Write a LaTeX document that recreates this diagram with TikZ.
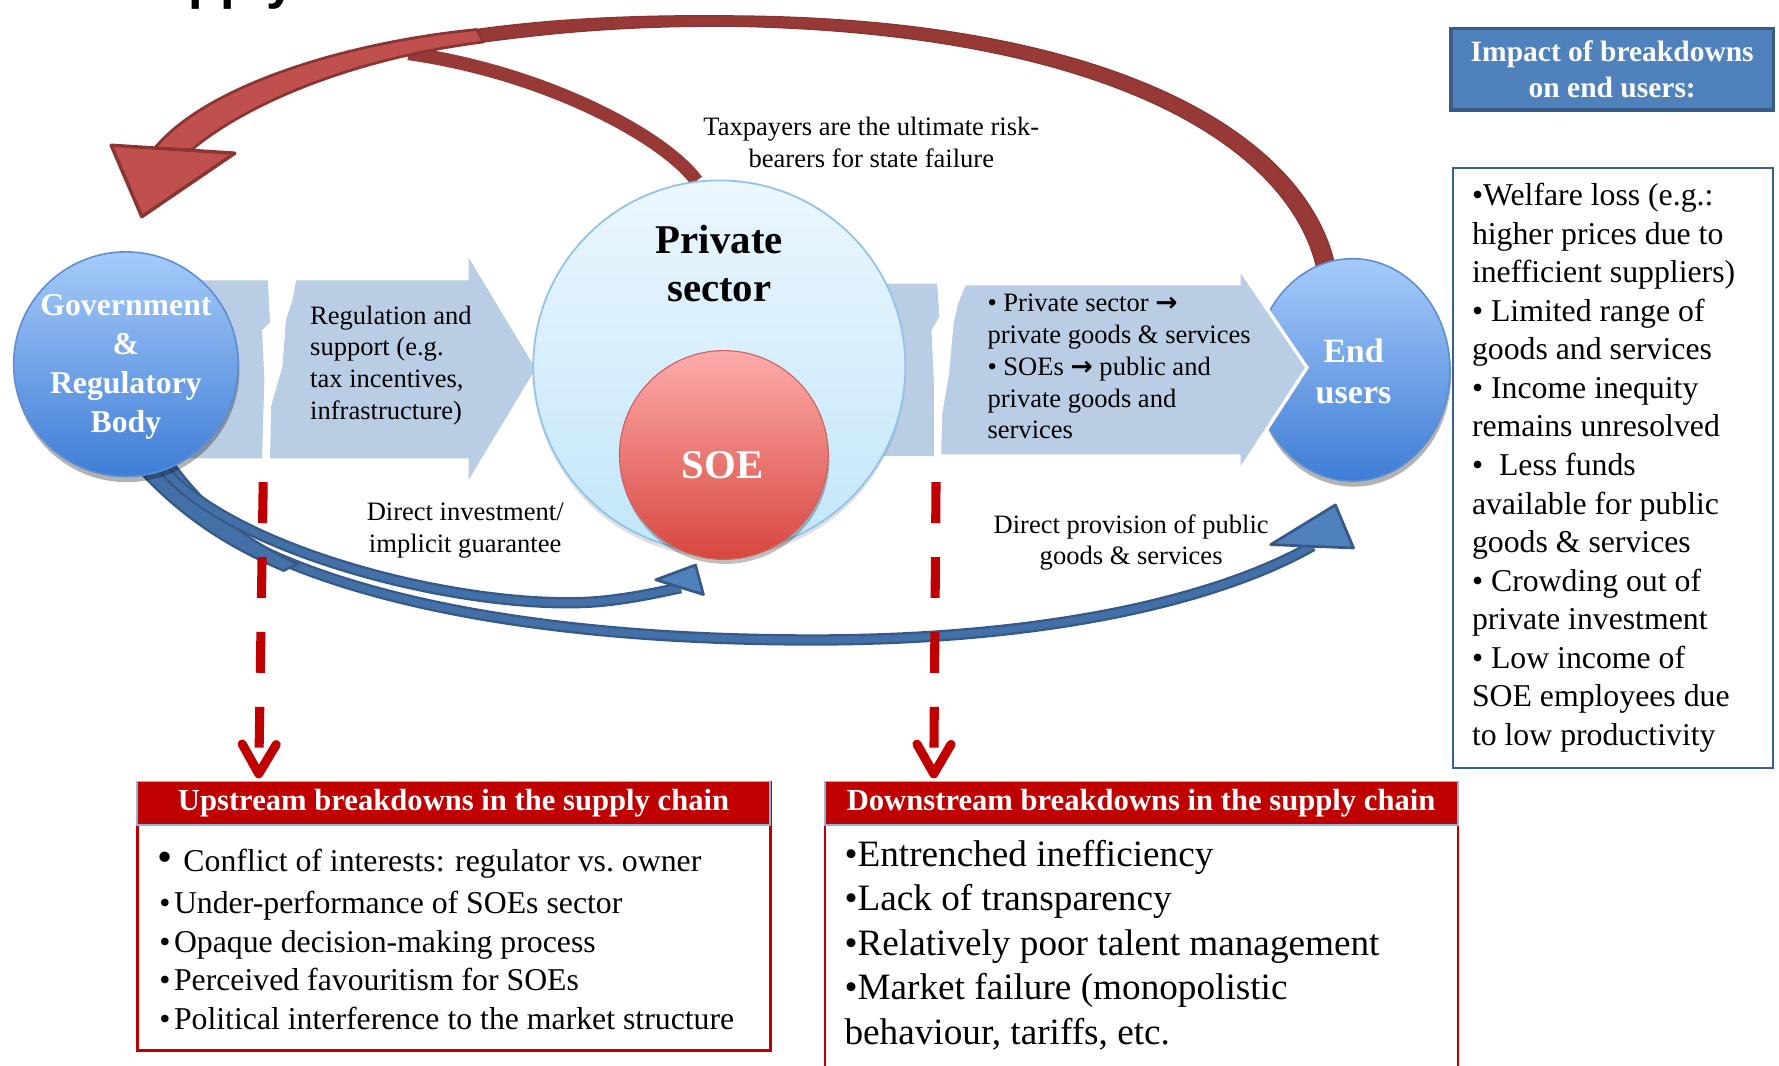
\documentclass[tikz,border=0pt]{standalone}
\usepackage{fontspec}
\setmainfont{Liberation Serif}
\newfontfamily\headsans{Liberation Sans}
\newfontfamily\arrowglyph{DejaVu Sans}
\usetikzlibrary{arrows.meta,shadows,shapes.geometric,calc}

\definecolor{armblue}{HTML}{B9CDE5}
\definecolor{ballTop}{HTML}{A6CBFA}
\definecolor{ballBot}{HTML}{3F7DD6}
\definecolor{ballEdge}{HTML}{5C8ED4}
\definecolor{psTop}{HTML}{EBF7FE}
\definecolor{psBot}{HTML}{C2E6FA}
\definecolor{psEdge}{HTML}{93C3E8}
\definecolor{soeTop}{HTML}{FDACAB}
\definecolor{soeBot}{HTML}{D8463F}
\definecolor{soeEdge}{HTML}{D0625E}
\definecolor{riskDark}{HTML}{973937}
\definecolor{riskFill}{HTML}{C0504D}
\definecolor{riskEdge}{HTML}{8A3533}
\definecolor{flowFill}{HTML}{4F81BD}
\definecolor{flowMid}{HTML}{4470A8}
\definecolor{flowEdge}{HTML}{36598A}
\definecolor{breakRed}{HTML}{C00000}
\definecolor{barEdge}{HTML}{8DB3E2}
\definecolor{headBlue}{HTML}{4F81BD}
\definecolor{headEdge}{HTML}{385D8A}
\definecolor{listEdge}{HTML}{3A5E9C}

\newcommand{\goesto}{{\arrowglyph\bfseries →}}

\pgfdeclarelayer{bandlayer}
\pgfdeclarelayer{flowlayer}
\pgfdeclarelayer{front}
\pgfsetlayers{bandlayer,main,flowlayer,front}

\begin{document}
\begin{tikzpicture}[x=0.5pt,y=-0.5pt,
  note/.style={inner sep=0pt, align=left, anchor=north west, font=\fontsize{11.7}{14}\selectfont},
  notec/.style={inner sep=0pt, align=center, anchor=north, font=\fontsize{11.7}{14}\selectfont},
  ballfill/.style={inner sep=0pt, top color=ballTop, bottom color=ballBot, draw=ballEdge, line width=0.7pt,
    drop shadow={shadow xshift=0.5pt, shadow yshift=-2.5pt, opacity=0.3, fill=black}},
  balltext/.style={text=white, align=center},
  armpiece/.style={fill=armblue, draw=none},
  riskband/.style={fill=riskDark, draw=riskEdge, line width=0.6pt},
  riskbranch/.style={riskDark, line width=6pt},
  riskribbon/.style={fill=riskFill, draw=riskEdge, line width=1.2pt, line join=round},
  riskhead/.style={fill=riskFill, draw=riskEdge, line width=1.5pt, line join=round},
  flowband/.style={draw=flowEdge, line width=1pt, double=flowMid, double distance=3pt},
  flowroot/.style={fill=flowMid, draw=flowEdge, line width=1pt},
  flowhead/.style={fill=flowFill, draw=flowEdge, line width=1.2pt, line join=round},
  breakline/.style={breakRed, line width=4pt, dash pattern=on 18pt off 15pt,
    -{Straight Barb[length=13pt,width=15pt,round]}},
  boxframe/.style={draw=breakRed, inner sep=0pt, anchor=north west, minimum width=279pt},
  boxtitle/.style={fill=breakRed, draw=barEdge, line width=0.8pt, minimum width=279pt, minimum height=19pt,
    inner sep=0pt, anchor=north west, text=white, font=\bfseries\fontsize{13.5}{16}\selectfont}
]
\useasboundingbox (0,0) rectangle (1568,939);
\clip (0,0) rectangle (1568,939);

% heading, mostly above the page edge
\node[anchor=base west, inner sep=0pt, font=\headsans\bfseries\fontsize{23}{23}\selectfont] (heading) at (107,-1) {Supply};

% ---- main layer: end users, flow arrows, private sector, SOE
\node[ellipse, minimum width=86pt, minimum height=98pt, ballfill] (eu) at (1192,326) {};

% downstream flow arrow (broken)
\fill[armpiece] (770,250) -- (826,250) -- (828,279) -- (821,291) -- (823,335) -- (823,402) -- (770,402) -- cycle;
\filldraw[fill=armblue, draw=white, line width=1.5pt] (850,250) -- (1092,250) -- (1092,236) -- (1152,324)
  -- (1092,416) -- (1092,402) -- (828,402) -- (829,364) -- (835,329) -- (839,285) -- (843,267) -- cycle;

% upstream flow arrow (broken)
\fill[armpiece] (165,247) -- (236,247) -- (238,284) -- (231,291) -- (233,335) -- (231,404) -- (165,404) -- cycle;
\fill[armpiece] (261,247) -- (413,247) -- (413,227) -- (472,325) -- (413,423) -- (413,404) -- (238,404)
  -- (239,358) -- (249,323) -- (252,282) -- (258,264) -- cycle;

\node[circle, minimum size=164pt, inner sep=0pt, top color=psTop, bottom color=psBot, draw=psEdge, line width=0.8pt,
  drop shadow={shadow xshift=0pt, shadow yshift=-2pt, opacity=0.12, fill=black}] (ps) at (634,323) {};
\node[circle, minimum size=92pt, inner sep=0pt, top color=soeTop, bottom color=soeBot, draw=soeEdge, line width=0.5pt,
  drop shadow={shadow xshift=0.5pt, shadow yshift=-2pt, opacity=0.25, fill=black}] (soe) at (638,401) {};

% ---- front layer: government sphere, labels, boxes
\begin{pgfonlayer}{front}
\node[circle, minimum size=99pt, ballfill] (gov) at (111,321) {};

\node[balltext, font=\bfseries\fontsize{14}{17.2}\selectfont] (govlabel) at (111,323) {Government\\\&\\Regulatory\\Body};
\node[align=center, font=\bfseries\fontsize{18}{21}\selectfont] (pslabel) at (634,232) {Private\\sector};
\node[text=white, font=\bfseries\fontsize{18}{18}\selectfont] (soelabel) at (637,410) {SOE};
\node[balltext, font=\bfseries\fontsize{15}{18}\selectfont] (eulabel) at (1193,327) {End\\users};

\node[note] (regnote) at (273,269) {Regulation and\\support (e.g.\\tax incentives,\\infrastructure)};
\node[note] (flownote) at (870,259) {• Private sector \goesto\\private goods \& services\\• SOEs \goesto{} public and\\private goods and\\services};
\node[notec] (riskcap) at (768,103) {Taxpayers are the ultimate risk-\\bearers for state failure};
\node[notec] (investcap) at (410,443) {Direct investment/\\implicit guarantee};
\node[notec] (providecap) at (997,453) {Direct provision of public\\goods \& services};

% breakdown markers
\coordinate (upA) at (232,425);
\coordinate (upB) at (228,686);
\coordinate (downA) at (825,425);
\coordinate (downB) at (823,686);
\draw[breakline] (upA) -- (upB);
\draw[breakline] (downA) -- (downB);

% impact on end users
\node[draw=headEdge, line width=1.5pt, fill=headBlue, minimum width=142pt, minimum height=36pt, inner sep=0pt,
  text=white, align=center, font=\bfseries\fontsize{13}{16}\selectfont] (impact) at (1421,61) {Impact of breakdowns\\on end users:};
\node[draw=listEdge, line width=0.9pt, minimum width=141pt, minimum height=264.5pt, inner sep=0pt, anchor=north west] (impactlist) at (1280,147) {};
\node[note, font=\fontsize{14}{17}\selectfont] (impacttext) at (1297,161) {•Welfare loss (e.g.:\\higher prices due to\\inefficient suppliers)\\• Limited range of\\goods and services\\• Income inequity\\remains unresolved\\•\ \ Less funds\\available for public\\goods \& services\\• Crowding out of\\private investment\\• Low income of\\SOE employees due\\to low productivity};

% upstream breakdowns
\node[boxframe, line width=1.2pt, minimum height=118.5pt] (upbox) at (120,688) {};
\node[boxtitle] (uptitle) at (120,688) {Upstream breakdowns in the supply chain};
\node[note, font=\fontsize{14}{17}\selectfont] (uplist) at (138,748) {{\fontsize{19}{17}\selectfont •}\hspace{5pt}Conflict of interests: regulator vs.\ owner\\[1.5pt]
\hspace{1pt}•\hspace{1.6pt}Under-performance of SOEs sector\\
\hspace{1pt}•\hspace{1.6pt}Opaque decision-making process\\
\hspace{1pt}•\hspace{1.6pt}Perceived favouritism for SOEs\\
\hspace{1pt}•\hspace{1.6pt}Political interference to the market structure};

% downstream breakdowns
\node[boxframe, line width=1pt, minimum height=132pt] (downbox) at (726,688) {};
\node[boxtitle] (downtitle) at (726,688) {Downstream breakdowns in the supply chain};
\node[note, font=\fontsize{16.4}{19.6}\selectfont] (downlist) at (744,740) {•Entrenched inefficiency\\•Lack of transparency\\•Relatively poor talent management\\•Market failure (monopolistic\\behaviour, tariffs, etc.};
\end{pgfonlayer}

% ---- flow layer: direct investment / direct provision arrows
\begin{pgfonlayer}{flowlayer}
\coordinate (hbB) at (1157,481);
\coordinate (hbL) at (1120,480);
\coordinate (hbT) at (1177,445);
\coordinate (hbR) at (1193,483);
\draw[flowband] (gov.285) .. controls (205,502) and (400,562) .. (700,564) .. controls (930,566) and (1080,525) .. (hbB);
\filldraw[flowhead] (hbL) -- (hbT) -- (hbR) -- cycle;

% shared thick root leaving the government sphere
\filldraw[flowroot] (gov.296) .. controls (185,450) and (215,475) .. (262,497)
  -- (250,503) .. controls (200,482) and (160,455) .. (gov.279) -- cycle;

\coordinate (hbA) at (600,518);
\coordinate (haL) at (578,511);
\coordinate (haT) at (613,498);
\coordinate (haR) at (620,524);
\draw[flowband] (gov.290) .. controls (212,490) and (420,540) .. (530,530) .. controls (560,527) and (585,521) .. (hbA);
\filldraw[flowhead] (haL) -- (haT) -- (haR) -- cycle;
\end{pgfonlayer}

% ---- band layer: risk borne by taxpayers
\begin{pgfonlayer}{bandlayer}
\coordinate (rL) at (98,128);
\coordinate (rT) at (125,191);
\coordinate (rR) at (207,135);
% tapering dark band from the end users over the top
\filldraw[riskband] ($(eu.106)+(11,0)$) .. controls (1150,120) and (985,15) .. (640,14)
  .. controls (540,13) and (470,19) .. (420,26) -- (426,37) .. controls (480,30) and (540,23) .. (640,23)
  .. controls (975,28) and (1134,128) .. ($(eu.106)+(-5,2)$) -- cycle;
% branch rising from the private sector
\draw[riskbranch] (ps.97) .. controls (585,120) and (480,64) .. (360,47);
% widening ribbon into the head
\filldraw[riskribbon] (420,26) .. controls (300,38) and (180,77) .. (136,131) -- (169,132)
  .. controls (210,97) and (300,53) .. (426,37) -- cycle;
\filldraw[riskhead] (rL) -- (rT) -- (rR) -- cycle;
\end{pgfonlayer}
\end{tikzpicture}
\end{document}
